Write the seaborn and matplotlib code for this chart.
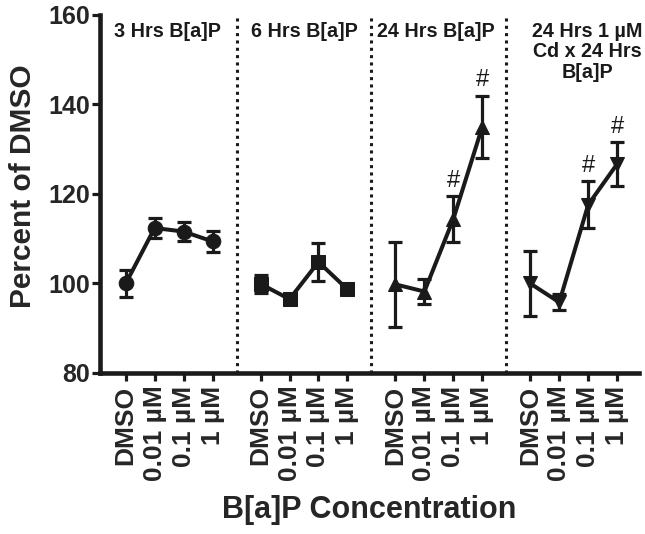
import matplotlib
matplotlib.use("Agg")
import matplotlib.pyplot as plt
import seaborn as sns
import pandas as pd

# data (percent of DMSO, mean and error)
doses = ["DMSO", "0.01 µM", "0.1 µM", "1 µM"]
grupos = ["3 Hrs B[a]P", "6 Hrs B[a]P", "24 Hrs B[a]P", "24 Hrs 1 µM\nCd x 24 Hrs\nB[a]P"]
media_3h = [100.0, 112.4, 111.6, 109.4]
erro_3h = [3.0, 2.3, 2.1, 2.3]
media_6h = [99.9, 96.5, 104.8, 98.7]
erro_6h = [2.0, 0.8, 4.3, 0.9]
media_24h = [99.8, 98.2, 114.4, 135.0]
erro_24h = [9.5, 2.8, 5.1, 7.0]
media_cd = [100.0, 95.8, 117.6, 126.7]
erro_cd = [7.2, 1.8, 5.3, 4.9]
significativo = [[], [], [2, 3], [2, 3]]  # indices with '#'

medias = [media_3h, media_6h, media_24h, media_cd]
erros = [erro_3h, erro_6h, erro_24h, erro_cd]
marcadores = ["o", "s", "^", "v"]

passo = 4.66  # distance between groups on x
linhas = []
for i, g in enumerate(grupos):
    for j, d in enumerate(doses):
        linhas.append({"grupo": g, "dose": d, "x": i * passo + j,
                       "media": medias[i][j], "erro": erros[i][j]})
df = pd.DataFrame(linhas)

sns.set_style("ticks")
plt.rcParams["font.family"] = ["Liberation Sans", "DejaVu Sans"]
plt.rcParams["font.weight"] = "bold"

cor = "#1a1a1a"
fig = plt.figure(figsize=(6.45, 5.34), dpi=100)
ax = fig.add_axes([0.155, 0.3015, 0.835, 0.6705])

for i, g in enumerate(grupos):
    sub = df[df["grupo"] == g]
    ax.errorbar(sub["x"], sub["media"], yerr=sub["erro"], fmt="none",
                ecolor=cor, elinewidth=2.3, capsize=4.8, capthick=2.3, zorder=2)

sns.lineplot(data=df, x="x", y="media", hue="grupo", style="grupo",
             markers=dict(zip(grupos, marcadores)), dashes=False,
             palette=[cor] * 4, linewidth=2.9, markersize=10.5,
             markeredgecolor=cor, legend=False, ax=ax, zorder=3)

# significance marks
for i, g in enumerate(grupos):
    sub = df[df["grupo"] == g].reset_index(drop=True)
    for j in significativo[i]:
        ax.text(sub.loc[j, "x"], sub.loc[j, "media"] + sub.loc[j, "erro"] + 1.0, "#",
                ha="center", va="bottom", fontsize=17, fontweight="normal", color=cor)

# dotted separators between groups
for i in range(1, 4):
    ax.axvline(i * passo - (passo - 3) / 2, color=cor, linestyle=(0, (1, 1.4)),
               linewidth=2.2, zorder=1)

# group titles
pos_titulos = [1.44, 6.16, 10.70, 15.96]
for t, px in zip(grupos, pos_titulos):
    ax.text(px, 158.5, t, ha="center", va="top", fontsize=14.2, fontweight="bold",
            color=cor, linespacing=1.1)

ax.set_xlim(-0.89, 17.72)
ax.set_ylim(80, 160)
ax.set_yticks([80, 100, 120, 140, 160])
ax.set_xticks(df["x"])
ax.set_xticklabels(df["dose"], rotation=90, fontsize=19, fontweight="bold")
ax.tick_params(axis="y", labelsize=18, width=2.3, length=6, pad=1, color=cor)
ax.tick_params(axis="x", width=2.3, length=6, pad=3, color=cor)
for lab in ax.get_yticklabels():
    lab.set_fontweight("bold")

ax.set_ylabel("Percent of DMSO", fontsize=21.5, fontweight="bold", labelpad=8)
ax.yaxis.label.set_y(0.522)
ax.set_xlabel("B[a]P Concentration", fontsize=22, fontweight="bold", labelpad=10)

for s in ["top", "right"]:
    ax.spines[s].set_visible(False)
for s in ["left", "bottom"]:
    ax.spines[s].set_linewidth(3.3)
    ax.spines[s].set_color(cor)

fig.savefig("out.png", dpi=100)
